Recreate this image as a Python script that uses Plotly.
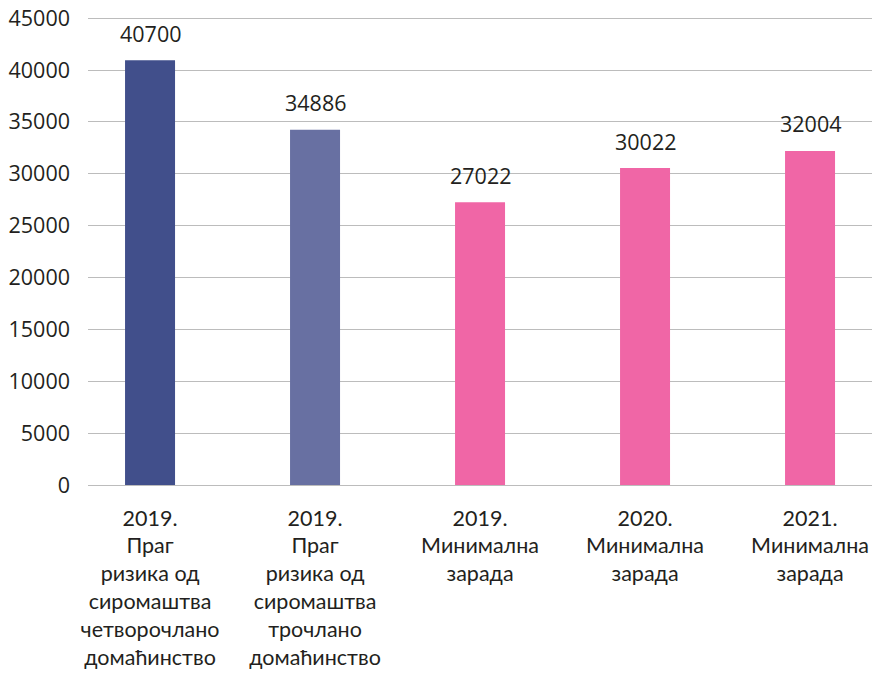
import plotly.graph_objs as go

# Data
categories = [
    "2019.<br>Праг<br>ризика од<br>сиромаштва<br>четворочлано<br>домаћинство",
    "2019.<br>Праг<br>ризика од<br>сиромаштва<br>трочлано<br>домаћинство",
    "2019.<br>Минимална<br>зарада",
    "2020.<br>Минимална<br>зарада",
    "2021.<br>Минимална<br>зарада",
]
bar_values = [40950, 34250, 27250, 30550, 32200]
value_labels = ["40700", "34886", "27022", "30022", "32004"]
bar_colors = ["#414f8b", "#6870a2", "#f066a6", "#f066a6", "#f066a6"]
y_ticks = [0, 5000, 10000, 15000, 20000, 25000, 30000, 35000, 40000, 45000]

FONT = "Open Sans"
TEXT_COLOR = "#231f20"

fig = go.Figure(go.Bar(x=categories, y=bar_values, marker=dict(color=bar_colors, line=dict(width=0)),
                       width=0.303))

# value labels sit a little above each bar
for cat, val, lab in zip(categories, bar_values, value_labels):
    fig.add_annotation(x=cat, y=val, text=lab, showarrow=False, yshift=27,
                       font=dict(family=FONT, size=21.5, color=TEXT_COLOR))

# the page body adds an 8px offset, margins account for it
fig.update_layout(width=880, height=673, plot_bgcolor="white", paper_bgcolor="white",
                  margin=dict(l=80, r=8, t=9, b=196), showlegend=False,
                  font=dict(family=FONT, size=21.5, color=TEXT_COLOR))
fig.update_xaxes(range=[-0.376, 4.424], showline=False, ticks="", ticklabelstandoff=18,
                 automargin=False, tickfont=dict(family="Lato", size=21.5, color=TEXT_COLOR))
fig.update_yaxes(range=[0, 45110], tickvals=y_ticks, ticktext=[str(v) for v in y_ticks],
                 showgrid=True, gridcolor="#bcbcbc", gridwidth=1,
                 zeroline=True, zerolinecolor="#bcbcbc", zerolinewidth=1, showline=False,
                 ticklabeloverflow="allow",
                 automargin=False, ticklabelstandoff=17, tickfont=dict(family=FONT, size=21.5, color=TEXT_COLOR))

fig.write_html("out.html")
